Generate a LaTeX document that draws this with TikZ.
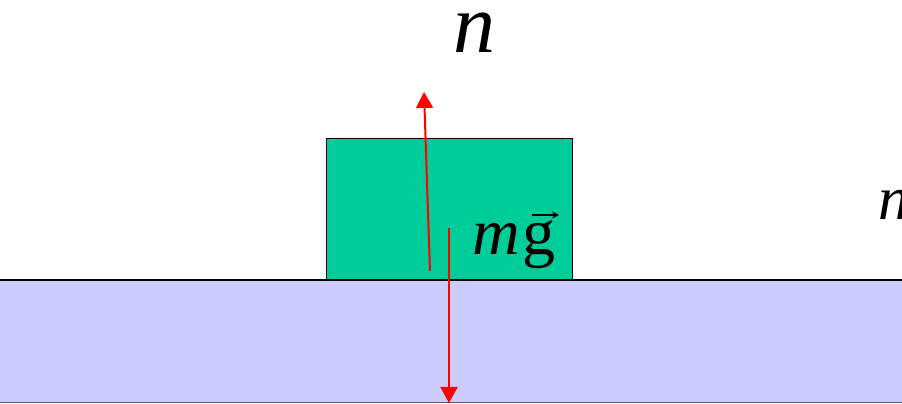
\documentclass[tikz,border=0pt]{standalone}
\usepackage{fontspec}
\setmainfont{Liberation Serif}
\usetikzlibrary{arrows.meta}
\definecolor{groundc}{HTML}{CCCCFF}
\definecolor{blockc}{HTML}{00CC99}
\begin{document}
\begin{tikzpicture}[x=1pt,y=1pt,
  force/.style={draw=red,line width=2pt,-{Triangle[width=17pt,length=16pt]}},
  lbl/.style={inner sep=0pt,anchor=base west,font=\itshape}]
\useasboundingbox (0,0) rectangle (902,404);
\fill[white] (0,0) rectangle (902,404);
% ground
\path[fill=groundc] (0,1) rectangle (902,124);
\draw[line width=1.5pt] (0,124) -- (902,124);
\draw[line width=1pt,gray!70!black] (0,1) -- (902,1);
% block
\node[draw=black,line width=1.2pt,fill=blockc,minimum width=246pt,minimum height=141pt,inner sep=0pt,anchor=south west] (block) at (326,124) {};
% force points
\coordinate (nstart) at (430,133);
\coordinate (ntip) at (424,312);
\coordinate (gstart) at (449,176);
\coordinate (gtip) at (449,1);
\draw[force] (nstart) -- (ntip);
\draw[force] (gstart) -- (gtip);
% labels
\node[lbl,font=\fontsize{84}{84}\selectfont\itshape] (ntop) at (453,351) {n};
\node[lbl,font=\fontsize{66}{66}\selectfont] (mg) at (472,149) {\textit{m}\kern3pt g};
\coordinate (va) at (532,189);
\coordinate (vb) at (559,189);
\draw[line width=1.5pt,-{Stealth[width=7pt,length=7pt]}] (va) -- (vb);
\node[lbl,font=\fontsize{62}{62}\selectfont\itshape] (nright) at (878,184) {n};
\end{tikzpicture}
\end{document}
